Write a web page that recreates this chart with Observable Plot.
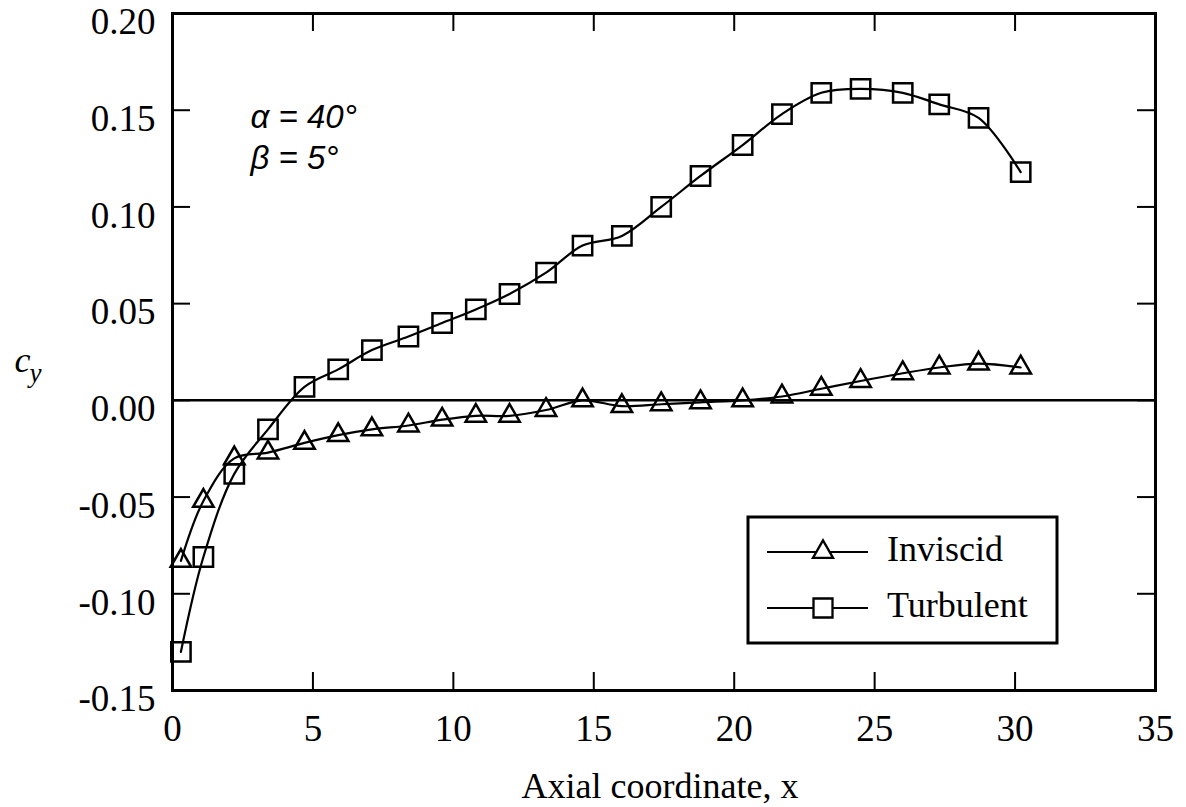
<!DOCTYPE html>
<html>
<head>
<meta charset="utf-8">
<script src="https://cdn.jsdelivr.net/npm/d3@7"></script>
<script src="https://cdn.jsdelivr.net/npm/@observablehq/plot@0.6"></script>
<style>
  html, body { margin: 0; padding: 0; background: #fff; }
  #chart { width: 1186px; height: 807px; }
</style>
</head>
<body>
<div id="chart"></div>
<script>
// Axial stations (x) shared by both solutions
const xStations = [0.3, 1.1, 2.2, 3.4, 4.7, 5.9, 7.1, 8.4, 9.6, 10.8, 12.0, 13.3,
                   14.6, 16.0, 17.4, 18.8, 20.3, 21.7, 23.1, 24.5, 26.0, 27.3, 28.7, 30.2];

// Side-force coefficient c_y, inviscid solution
const cyInviscid = [-0.083, -0.052, -0.030, -0.027, -0.022, -0.018, -0.015, -0.013, -0.010, -0.008, -0.008, -0.005,
                    0.000, -0.003, -0.002, -0.001, 0.000, 0.002, 0.006, 0.010, 0.014, 0.017, 0.019, 0.017];

// Side-force coefficient c_y, turbulent solution
const cyTurbulent = [-0.130, -0.081, -0.038, -0.015, 0.007, 0.016, 0.026, 0.033, 0.040, 0.047, 0.055, 0.066,
                     0.080, 0.085, 0.100, 0.116, 0.132, 0.148, 0.159, 0.161, 0.159, 0.153, 0.146, 0.118];

const seriesNames = ["Inviscid", "Turbulent"];
const seriesSymbols = ["triangle", "square"];

const xTickValues = [0, 5, 10, 15, 20, 25, 30, 35];
const yTickValues = [-0.15, -0.10, -0.05, 0.00, 0.05, 0.10, 0.15, 0.20];

const annotationLines = ["\u03B1 = 40\u00B0", "\u03B2 = 5\u00B0"];
const xTitle = "Axial coordinate, x";

const inviscid = xStations.map((x, i) => ({x, y: cyInviscid[i]}));
const turbulent = xStations.map((x, i) => ({x, y: cyTurbulent[i]}));

const W = 1186, H = 807;
const M = {top: 13, right: 31, bottom: 117, left: 172};
const innerW = W - M.left - M.right;
const innerH = H - M.top - M.bottom;
const tickLen = 18;
const serif = "Liberation Serif";
const tickFont = 37;

const xInner = xTickValues.slice(1, -1);
const yInner = yTickValues.slice(1, -1);

const lineStroke = 2.2;
const markStroke = 2.5;

// In-plot legend box (lower right), drawn as a render function
function legend(index, scales, values, dim) {
  const boxW = 309, boxH = 126;
  const x0 = dim.width - dim.marginRight - 98 - boxW;
  const y0 = dim.height - dim.marginBottom - 47 - boxH;
  const g = d3.create("svg:g");
  g.append("rect")
    .attr("x", x0).attr("y", y0).attr("width", boxW).attr("height", boxH)
    .attr("fill", "white").attr("stroke", "black").attr("stroke-width", 3);
  const sym = {triangle: d3.symbolTriangle, square: d3.symbolSquare};
  const sizes = {triangle: 175, square: 361};
  seriesNames.forEach((name, i) => {
    const cy = y0 + 35 + i * 56;
    g.append("line")
      .attr("x1", x0 + 19).attr("x2", x0 + 120)
      .attr("y1", cy).attr("y2", cy)
      .attr("stroke", "black").attr("stroke-width", 2);
    g.append("path")
      .attr("d", d3.symbol(sym[seriesSymbols[i]], sizes[seriesSymbols[i]])())
      .attr("transform", `translate(${x0 + 75},${cy})`)
      .attr("fill", "white").attr("stroke", "black").attr("stroke-width", 2.3);
    g.append("text")
      .attr("x", x0 + 139).attr("y", cy + 9)
      .attr("text-anchor", "start")
      .attr("font-family", serif).attr("font-size", 36)
      .attr("fill", "black")
      .text(name);
  });
  return g.node();
}

const chart = Plot.plot({
  width: W,
  height: H,
  marginTop: M.top,
  marginRight: M.right,
  marginBottom: M.bottom,
  marginLeft: M.left,
  style: {fontFamily: serif, fontSize: "36px", color: "black", background: "white", overflow: "visible"},
  x: {domain: [0, 35]},
  y: {domain: [-0.15, 0.20]},
  marks: [
    // zero reference line
    Plot.ruleY([0], {stroke: "black", strokeWidth: 2.5}),

    // inward ticks on all four sides
    Plot.tickX(xInner, {x: d => d, insetTop: innerH - tickLen, stroke: "black", strokeWidth: 2}),
    Plot.tickX(xInner, {x: d => d, insetBottom: innerH - tickLen, stroke: "black", strokeWidth: 2}),
    Plot.tickY(yInner, {y: d => d, insetRight: innerW - tickLen, stroke: "black", strokeWidth: 2}),
    Plot.tickY(yInner, {y: d => d, insetLeft: innerW - tickLen, stroke: "black", strokeWidth: 2}),

    Plot.axisX(xTickValues, {tickSize: 0, tickPadding: 24, label: null, fontFamily: serif, fontSize: tickFont,
      tickFormat: d => String(d)}),
    Plot.axisY(yTickValues, {tickSize: 0, tickPadding: 17, dy: 9, label: null, fontFamily: serif, fontSize: tickFont,
      tickFormat: d => d.toFixed(2)}),

    // series
    Plot.line(inviscid, {x: "x", y: "y", curve: "catmull-rom", stroke: "black", strokeWidth: lineStroke}),
    Plot.line(turbulent, {x: "x", y: "y", curve: "catmull-rom", stroke: "black", strokeWidth: lineStroke}),
    Plot.dot(inviscid, {x: "x", y: "y", symbol: seriesSymbols[0], r: 7.6, fill: "none", stroke: "black", strokeWidth: markStroke}),
    Plot.dot(turbulent, {x: "x", y: "y", symbol: seriesSymbols[1], r: 10.9, fill: "none", stroke: "black", strokeWidth: markStroke}),

    Plot.frame({stroke: "black", strokeWidth: 3}),

    // flow-angle annotation
    Plot.text([annotationLines[0]], {frameAnchor: "top-left", textAnchor: "start", lineAnchor: "middle",
      dx: 78, dy: 104, fontFamily: "Liberation Sans", fontStyle: "italic", fontSize: 33, fill: "black"}),
    Plot.text([annotationLines[1]], {frameAnchor: "top-left", textAnchor: "start", lineAnchor: "middle",
      dx: 78, dy: 145, fontFamily: "Liberation Sans", fontStyle: "italic", fontSize: 33, fill: "black"}),

    // y-axis title c_y
    Plot.text(["c"], {frameAnchor: "left", textAnchor: "middle", lineAnchor: "middle",
      dx: -150, dy: 8, fontFamily: serif, fontStyle: "italic", fontSize: 36, fill: "black"}),
    Plot.text(["y"], {frameAnchor: "left", textAnchor: "middle", lineAnchor: "middle",
      dx: -137, dy: 21, fontFamily: serif, fontStyle: "italic", fontSize: 27, fill: "black"}),

    // x-axis title
    Plot.text([xTitle], {frameAnchor: "bottom", textAnchor: "middle", lineAnchor: "middle",
      dx: -4, dy: 96, fontFamily: serif, fontSize: 36, fill: "black"}),

    legend
  ]
});

document.getElementById("chart").appendChild(chart);
</script>
</body>
</html>
